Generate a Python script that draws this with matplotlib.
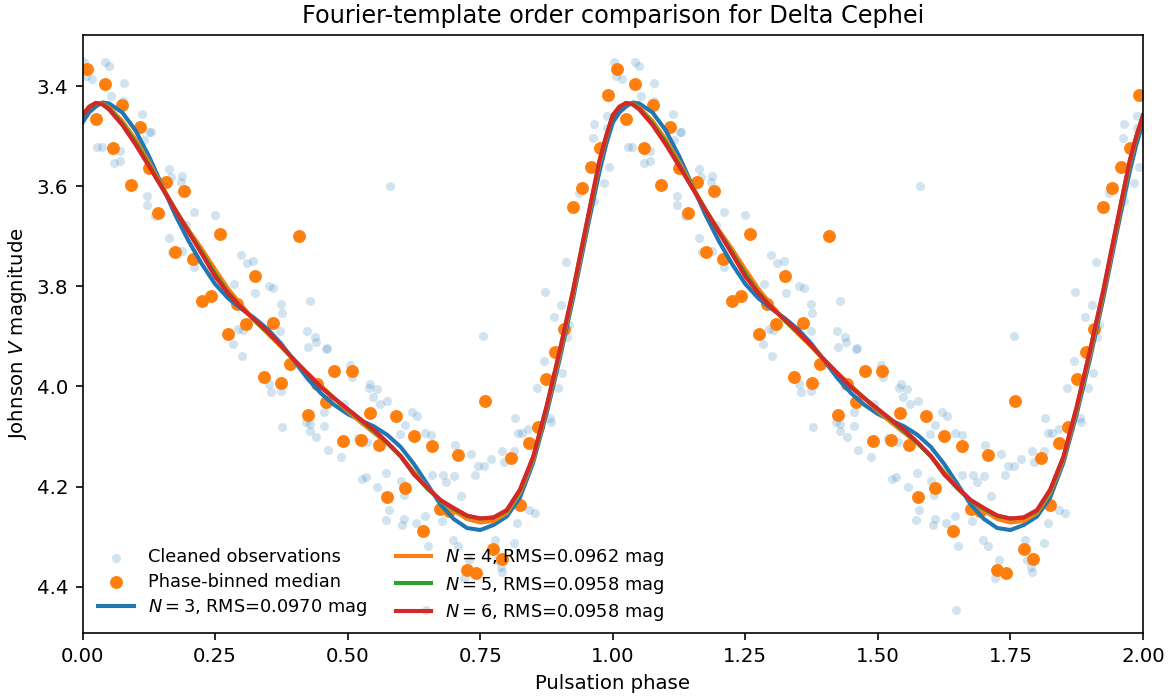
import matplotlib
matplotlib.use("Agg")
import matplotlib.pyplot as plt
import numpy as np

plt.rcParams["font.size"] = 9.7

# cleaned observations, one pulsation cycle (phase, V mag)
obs_phase = [0.002, 0.007, 0.042, 0.049, 0.018, 0.078, 0.053, 0.077, 0.113, 0.126,
             0.129, 0.116, 0.028, 0.037, 0.071, 0.059, 0.071, 0.163, 0.167, 0.187,
             0.186, 0.121, 0.121, 0.210, 0.250, 0.137, 0.195, 0.163, 0.169, 0.187,
             0.210, 0.299, 0.310, 0.322, 0.285, 0.352, 0.360, 0.326, 0.429, 0.374,
             0.376, 0.294, 0.302, 0.284, 0.301, 0.373, 0.423, 0.438, 0.440, 0.425,
             0.461, 0.459, 0.352, 0.355, 0.374, 0.505, 0.509, 0.543, 0.540, 0.555,
             0.548, 0.561, 0.575, 0.493, 0.455, 0.421, 0.429, 0.429, 0.455, 0.377,
             0.441, 0.463, 0.487, 0.598, 0.608, 0.621, 0.631, 0.756, 0.520, 0.537,
             0.573, 0.527, 0.534, 0.556, 0.601, 0.606, 0.646, 0.658, 0.659, 0.680,
             0.686, 0.700, 0.702, 0.713, 0.733, 0.746, 0.757, 0.740, 0.770, 0.791,
             0.813, 0.795, 0.816, 0.821, 0.829, 0.841, 0.857, 0.870, 0.882, 0.883,
             0.896, 0.905, 0.890, 0.914, 0.917, 0.578, 0.572, 0.607, 0.603, 0.629,
             0.646, 0.677, 0.699, 0.708, 0.729, 0.781, 0.789, 0.814, 0.820, 0.842,
             0.853, 0.791, 0.720, 0.651, 0.647, 0.989, 0.964, 0.962, 0.989, 0.992,
             0.983, 0.964, 0.936, 0.911, 0.872, 0.580, 0.903, 0.777]
obs_mag = [3.352, 3.380, 3.352, 3.360, 3.385, 3.393, 3.420, 3.430, 3.455, 3.492,
           3.491, 3.508, 3.521, 3.522, 3.529, 3.554, 3.549, 3.566, 3.582, 3.580,
           3.592, 3.619, 3.637, 3.652, 3.658, 3.660, 3.678, 3.704, 3.732, 3.730,
           3.762, 3.737, 3.754, 3.749, 3.796, 3.800, 3.804, 3.813, 3.829, 3.836,
           3.854, 3.885, 3.888, 3.915, 3.939, 3.889, 3.889, 3.902, 3.912, 3.922,
           3.924, 3.926, 3.996, 4.012, 4.009, 3.958, 3.982, 3.995, 4.004, 4.006,
           4.022, 4.036, 4.030, 4.035, 4.052, 4.072, 4.075, 4.089, 4.078, 4.080,
           4.100, 4.126, 4.140, 4.094, 4.077, 4.052, 4.060, 3.900, 4.102, 4.111,
           4.173, 4.185, 4.180, 4.200, 4.188, 4.217, 4.092, 4.097, 4.176, 4.176,
           4.190, 4.179, 4.117, 4.218, 4.135, 4.158, 4.158, 4.177, 4.145, 4.129,
           4.128, 4.151, 4.064, 4.092, 4.092, 4.084, 4.004, 3.950, 4.064, 4.072,
           4.003, 3.974, 3.862, 3.902, 3.877, 4.246, 4.266, 4.264, 4.276, 4.272,
           4.259, 4.269, 4.307, 4.319, 4.346, 4.347, 4.360, 4.312, 4.272, 4.247,
           4.252, 4.370, 4.382, 4.319, 4.446, 3.459, 3.476, 3.504, 3.483, 3.562,
           3.594, 3.630, 3.613, 3.752, 3.812, 3.599, 3.837, 4.307]

# phase-binned medians, 60 bins
median_mag = [3.366, 3.466, 3.395, 3.523, 3.438, 3.597, 3.482, 3.563, 3.653, 3.591,
              3.731, 3.610, 3.746, 3.829, 3.819, 3.695, 3.896, 3.836, 3.876, 3.779,
              3.982, 3.874, 3.993, 3.955, 3.700, 4.057, 3.995, 4.032, 3.969, 4.109,
              3.969, 4.106, 4.054, 4.117, 4.220, 4.060, 4.202, 4.099, 4.289, 4.118,
              4.245, 4.249, 4.136, 4.366, 4.372, 4.029, 4.325, 4.344, 4.142, 4.236,
              4.112, 4.080, 3.986, 3.932, 3.886, 3.641, 3.603, 3.561, 3.523, 3.417]

# Fourier templates
tpl_phase = [0, 0.0125, 0.025, 0.0375, 0.05, 0.075, 0.1, 0.125, 0.15, 0.175, 0.2,
             0.225, 0.25, 0.275, 0.3, 0.325, 0.35, 0.375, 0.4, 0.425, 0.45, 0.475,
             0.5, 0.525, 0.55, 0.575, 0.6, 0.625, 0.65, 0.675, 0.7, 0.725, 0.75,
             0.775, 0.8, 0.825, 0.85, 0.875, 0.9, 0.925, 0.95, 0.9625, 0.975,
             0.9875, 1.0]
tpl_n3 = [3.472, 3.452, 3.440, 3.432, 3.434, 3.452, 3.488, 3.539, 3.598, 3.657,
          3.709, 3.755, 3.795, 3.824, 3.845, 3.864, 3.886, 3.915, 3.950, 3.985,
          4.014, 4.037, 4.055, 4.068, 4.080, 4.097, 4.121, 4.155, 4.195, 4.236,
          4.265, 4.283, 4.287, 4.277, 4.260, 4.222, 4.152, 4.055, 3.945, 3.825,
          3.695, 3.632, 3.570, 3.516, 3.472]
tpl_n4 = [3.457, 3.440, 3.434, 3.434, 3.442, 3.469, 3.506, 3.551, 3.599, 3.647,
          3.687, 3.725, 3.766, 3.805, 3.838, 3.869, 3.895, 3.921, 3.948, 3.974,
          3.999, 4.024, 4.049, 4.072, 4.093, 4.114, 4.139, 4.171, 4.202, 4.228,
          4.248, 4.265, 4.272, 4.269, 4.253, 4.212, 4.146, 4.047, 3.936, 3.816,
          3.685, 3.619, 3.554, 3.503, 3.457]
tpl_n5 = [3.458, 3.441, 3.433, 3.435, 3.444, 3.474, 3.512, 3.556, 3.602, 3.647,
          3.690, 3.732, 3.775, 3.813, 3.842, 3.868, 3.893, 3.919, 3.948, 3.976,
          4.001, 4.024, 4.046, 4.068, 4.090, 4.113, 4.140, 4.174, 4.204, 4.228,
          4.245, 4.259, 4.264, 4.262, 4.249, 4.208, 4.142, 4.042, 3.930, 3.810,
          3.679, 3.614, 3.550, 3.500, 3.458]
tpl_n6 = [3.458, 3.441, 3.433, 3.436, 3.446, 3.477, 3.516, 3.559, 3.603, 3.647,
          3.691, 3.735, 3.780, 3.814, 3.843, 3.867, 3.891, 3.919, 3.948, 3.975,
          4.002, 4.024, 4.045, 4.066, 4.087, 4.112, 4.139, 4.176, 4.202, 4.227,
          4.243, 4.258, 4.264, 4.262, 4.247, 4.206, 4.140, 4.040, 3.928, 3.808,
          3.677, 3.612, 3.548, 3.499, 3.458]
orders = [3, 4, 5, 6]
rms = [0.0970, 0.0962, 0.0958, 0.0958]
colors = ["C0", "C1", "C2", "C3"]


def two_cycles(ph, y):
    ph = np.asarray(ph, dtype=float)
    y = np.asarray(y, dtype=float)
    return np.concatenate([ph, ph[1:] + 1]), np.concatenate([y, y[1:]])


fig = plt.figure(figsize=(8, 698 / 146.75), dpi=146.75)
ax = fig.add_axes([0.0703, 0.0931, 0.9033, 0.8568])

op = np.asarray(obs_phase)
om = np.asarray(obs_mag)
ax.scatter(np.concatenate([op, op + 1]), np.concatenate([om, om]),
           s=20, color="C0", alpha=0.2, lw=0, label="Cleaned observations")

bin_ph = (np.arange(len(median_mag)) + 0.5) / len(median_mag)
ax.scatter(np.concatenate([bin_ph, bin_ph + 1]), median_mag + median_mag,
           s=40, color="C1", lw=0, label="Phase-binned median")

for n, r, c, tpl in zip(orders, rms, colors, [tpl_n3, tpl_n4, tpl_n5, tpl_n6]):
    x, y = two_cycles(tpl_phase, tpl)
    ax.plot(x, y, color=c, lw=2, label=r"$N=%d$, RMS=%.4f mag" % (n, r))

ax.set_xlim(0, 2)
ax.set_ylim(4.493, 3.297)
ax.set_xticks(np.arange(0, 2.01, 0.25))
ax.set_xticklabels(["%.2f" % v for v in np.arange(0, 2.01, 0.25)])
ax.set_yticks([3.4, 3.6, 3.8, 4.0, 4.2, 4.4])
ax.set_xlabel("Pulsation phase")
ax.set_ylabel("Johnson $V$ magnitude")
ax.set_title("Fourier-template order comparison for Delta Cephei", fontsize=11.8)
ax.legend(loc="lower left", bbox_to_anchor=(0, -0.01), ncol=2, frameon=False,
          fontsize=8.7, labelspacing=0.36, columnspacing=1.6)

fig.savefig("out.png", dpi=146.75)
